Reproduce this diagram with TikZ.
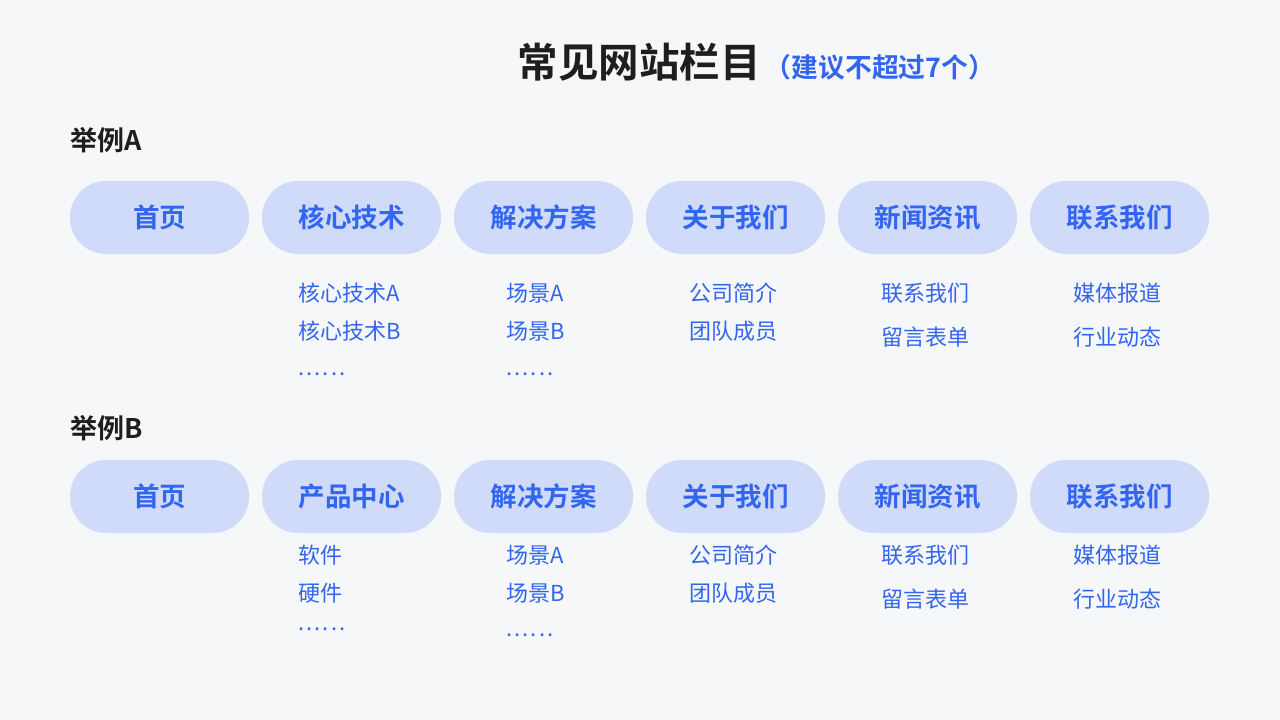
\documentclass[tikz,border=0pt]{standalone}
\usepackage{fontspec}
\setmainfont{Noto Sans CJK SC}
\newfontfamily\cjkbold{Noto Sans CJK SC Bold}
\usetikzlibrary{positioning}
\definecolor{pagebg}{HTML}{F6F7F9}
\definecolor{navblue}{HTML}{3366F0}
\definecolor{pillfill}{HTML}{D0DBFA}
\definecolor{inkblack}{HTML}{1E1E1E}
\newcommand{\moredots}{.\kern2.1pt.\kern2.1pt.\kern2.1pt.\kern2.1pt.\kern2.1pt.}

\begin{document}
\begin{tikzpicture}[x=1pt, y=-1pt,
    pill/.style={fill=pillfill, rounded corners=36pt, minimum width=179pt,
      minimum height=73pt, inner sep=0pt, text=navblue,
      font=\cjkbold\fontsize{26.5}{26.5}\selectfont},
    sub/.style={anchor=west, inner sep=0pt, text=navblue,
      font=\fontsize{22}{22}\selectfont},
    caption/.style={anchor=west, inner sep=0pt, text=inkblack,
      font=\cjkbold\fontsize{27}{27}\selectfont}]
  % Background
  \fill[pagebg] (0,0) rectangle (1280,720);
  \useasboundingbox (0,0) rectangle (1280,720);
  % Title
  \node[inner sep=0pt, text=inkblack, font=\cjkbold\fontsize{40.5}{40.5}\selectfont]
    (title) at (639,62) {常见网站栏目};
  \node[anchor=base west, inner sep=0pt, text=navblue,
    font=\cjkbold\fontsize{26.8}{26.8}\selectfont]
    (hint) at ([xshift=4pt]title.base east) {（建议不超过7个）};

  % Example A
  \node[caption] (capA) at (70,140) {举例A};
  \node[pill] (a1) at (159.5,217.5) {首页};
  \node[pill] (a2) at (351.5,217.5) {核心技术};
  \node[pill] (a3) at (543.5,217.5) {解决方案};
  \node[pill] (a4) at (735.5,217.5) {关于我们};
  \node[pill] (a5) at (927.5,217.5) {新闻资讯};
  \node[pill] (a6) at (1119.5,217.5) {联系我们};
  % sub items A
  \node[sub] (a2s1) at (298,293) {核心技术A};
  \node[sub] (a2s2) at (298,331) {核心技术B};
  \node[sub] (a2s3) at (298,374) {\moredots};
  \node[sub] (a3s1) at (506,293) {场景A};
  \node[sub] (a3s2) at (506,331) {场景B};
  \node[sub] (a3s3) at (506,374) {\moredots};
  \node[sub] (a4s1) at (689,293) {公司简介};
  \node[sub] (a4s2) at (689,331) {团队成员};
  \node[sub] (a5s1) at (881,293) {联系我们};
  \node[sub] (a5s2) at (881,337) {留言表单};
  \node[sub] (a6s1) at (1073,293) {媒体报道};
  \node[sub] (a6s2) at (1073,337) {行业动态};

  % Example B
  \node[caption] (capB) at (70,428) {举例B};
  \node[pill] (b1) at (159.5,496.5) {首页};
  \node[pill] (b2) at (351.5,496.5) {产品中心};
  \node[pill] (b3) at (543.5,496.5) {解决方案};
  \node[pill] (b4) at (735.5,496.5) {关于我们};
  \node[pill] (b5) at (927.5,496.5) {新闻资讯};
  \node[pill] (b6) at (1119.5,496.5) {联系我们};
  % sub items B
  \node[sub] (b2s1) at (298,555) {软件};
  \node[sub] (b2s2) at (298,593) {硬件};
  \node[sub] (b2s3) at (298,629) {\moredots};
  \node[sub] (b3s1) at (506,555) {场景A};
  \node[sub] (b3s2) at (506,593) {场景B};
  \node[sub] (b3s3) at (506,635) {\moredots};
  \node[sub] (b4s1) at (689,555) {公司简介};
  \node[sub] (b4s2) at (689,593) {团队成员};
  \node[sub] (b5s1) at (881,555) {联系我们};
  \node[sub] (b5s2) at (881,599) {留言表单};
  \node[sub] (b6s1) at (1073,555) {媒体报道};
  \node[sub] (b6s2) at (1073,599) {行业动态};
\end{tikzpicture}
\end{document}
